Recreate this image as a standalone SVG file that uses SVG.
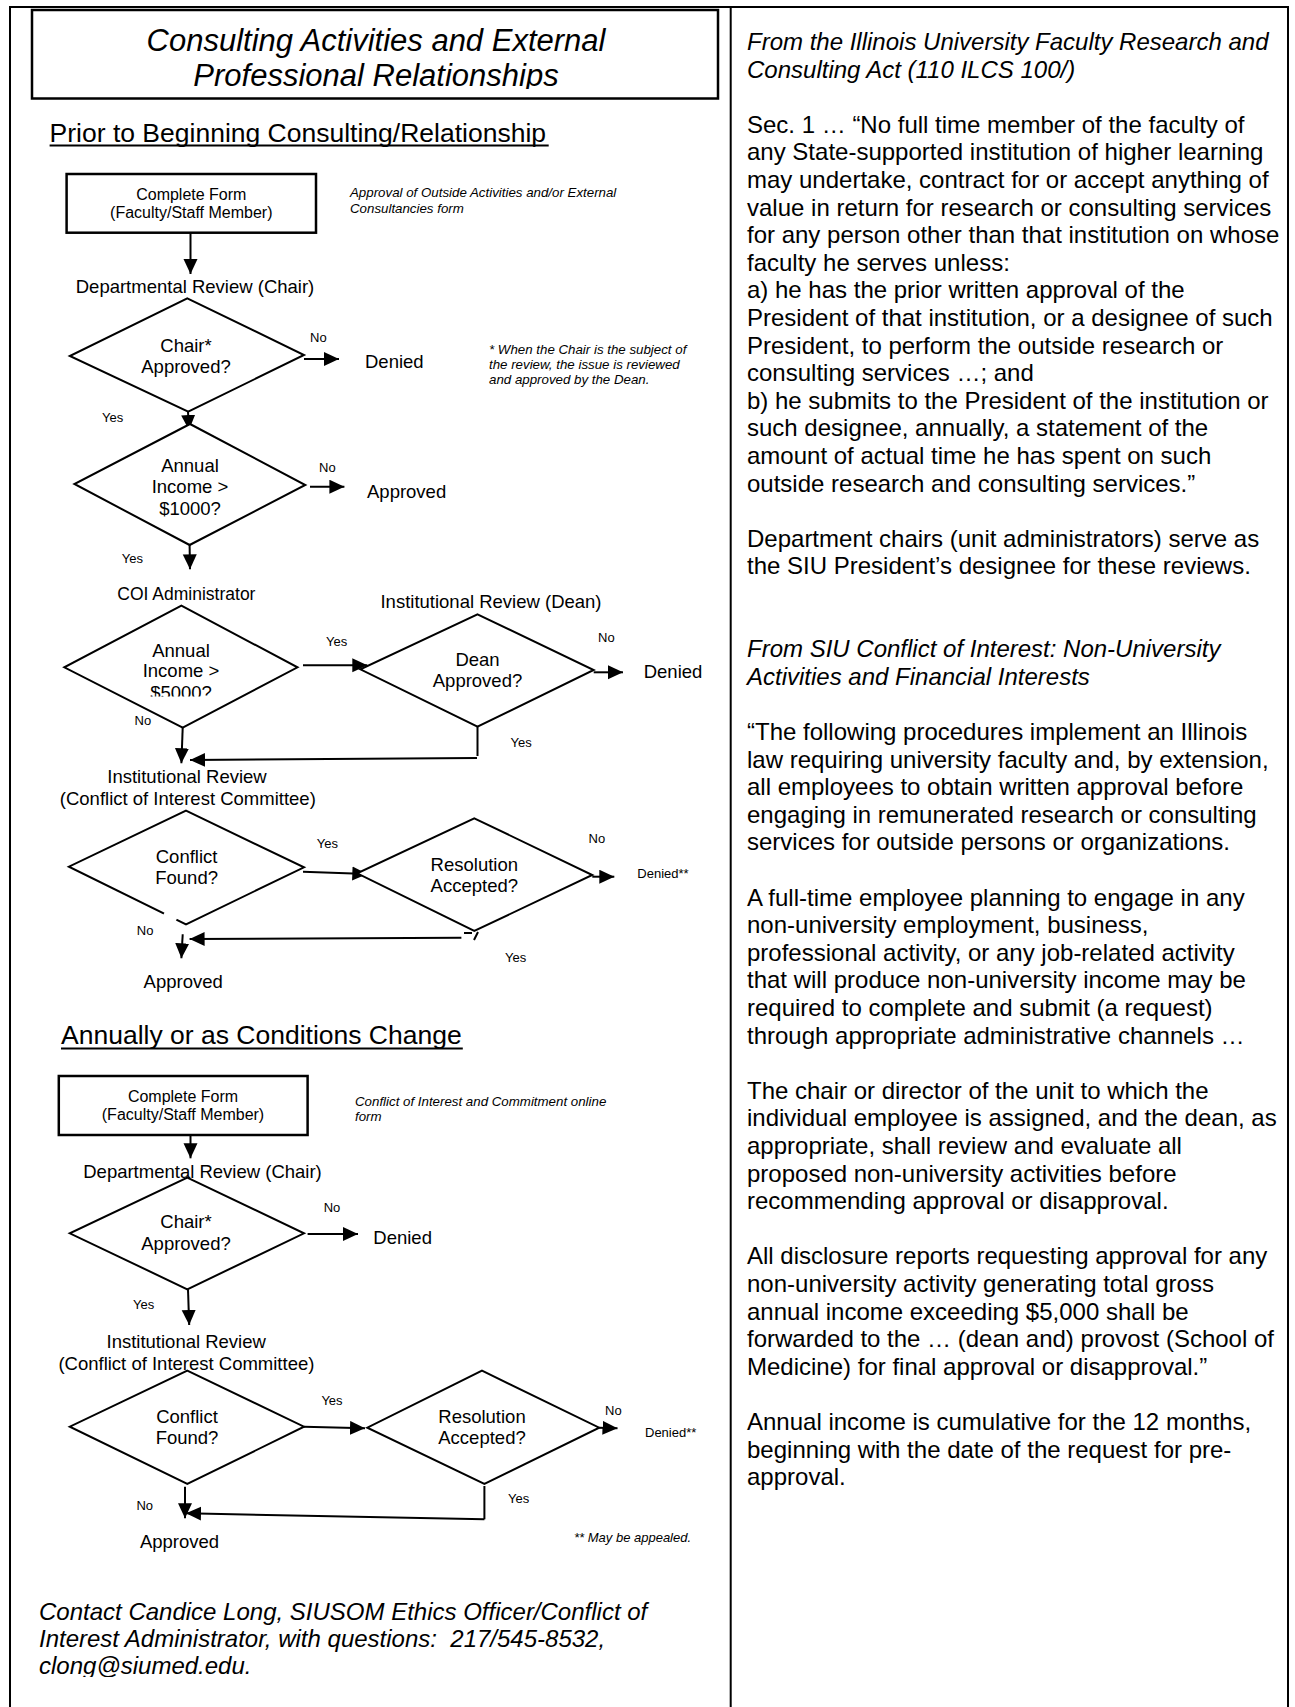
<svg xmlns="http://www.w3.org/2000/svg" width="1295" height="1707" viewBox="0 0 1295 1707">
<defs>
<style>
.t{font-family:"Liberation Sans",Arial,sans-serif;fill:#000}
.it{font-style:italic}
.m{text-anchor:middle}
.f31{font-size:31px}
.f26{font-size:26.5px}
.f24{font-size:24px}
.f18{font-size:18.5px}
.f16{font-size:16px}
.f13{font-size:13px}
.n13{font-size:13.3px}
.shape{fill:#fff;stroke:#000;stroke-width:2}
.box{fill:#fff;stroke:#000;stroke-width:2.5}
.frame{fill:none;stroke:#000;stroke-width:2}
.conn{fill:none;stroke:#000;stroke-width:2;marker-end:url(#ah)}
.plain{fill:none;stroke:#000;stroke-width:2}
</style>
<marker id="ah" markerUnits="userSpaceOnUse" markerWidth="16" markerHeight="15" refX="15" refY="7" orient="auto">
<path d="M0,0 L15,7 L0,14 z" fill="#000"/>
</marker>
<clipPath id="clipTitle"><rect x="32" y="10" width="686" height="79"/></clipPath>
<clipPath id="clip5000"><rect x="60" y="600" width="250" height="96.5"/></clipPath>
<clipPath id="clipContact"><rect x="0" y="1590" width="720" height="87"/></clipPath>
</defs>

<rect x="0" y="0" width="1295" height="1707" fill="#fff"/>

<g id="frame">
<path class="frame" d="M10,1707 V7 H1288 V1707"/>
<path class="frame" d="M730.7,7 V1707"/>
</g>

<g id="title">
<rect class="box" x="32" y="10" width="686" height="88.5"/>
<g clip-path="url(#clipTitle)">
<text class="t it f31 m" x="376" y="50.7">Consulting Activities and External</text>
<text class="t it f31 m" x="376" y="86">Professional Relationships</text>
</g>
</g>

<g id="heading-prior">
<text class="t f26" x="49.6" y="141.7">Prior to Beginning Consulting/Relationship</text>
<line x1="49.6" y1="145.5" x2="548.7" y2="145.5" stroke="#000" stroke-width="2"/>
</g>

<g id="connectors">
<line class="conn" x1="190.5" y1="233" x2="190.5" y2="274"/>
<line class="conn" x1="304" y1="359" x2="339" y2="359"/>
<line class="conn" x1="188" y1="412" x2="189" y2="430"/>
<line class="conn" x1="310" y1="486.7" x2="344.4" y2="486.7"/>
<line class="conn" x1="189.6" y1="545" x2="190" y2="569.3"/>
<line class="conn" x1="303" y1="665.3" x2="367.3" y2="665.3"/>
<line class="conn" x1="593.7" y1="672.3" x2="623" y2="672.3"/>
<line class="conn" x1="182.7" y1="727.7" x2="181.4" y2="763.3"/>
<path class="plain" d="M477.5,727 V756"/>
<line class="conn" x1="477" y1="758" x2="190" y2="760"/>
<line class="conn" x1="303" y1="871.7" x2="367.3" y2="874"/>
<line class="conn" x1="592.3" y1="876.7" x2="614.3" y2="876.7"/>
<path class="plain" d="M464,933 H472 M478,932 L474,940" stroke-width="1.5"/>
<line class="conn" x1="461.4" y1="937.7" x2="189.6" y2="939"/>
<line class="conn" x1="182.7" y1="934.3" x2="181.4" y2="958.3"/>
<line class="conn" x1="190.5" y1="1135" x2="190.5" y2="1158.3"/>
<line class="conn" x1="307.6" y1="1234" x2="358" y2="1234"/>
<line class="conn" x1="188" y1="1289.3" x2="189.2" y2="1325"/>
<line class="conn" x1="304" y1="1426.7" x2="365" y2="1428.3"/>
<line class="conn" x1="599.2" y1="1427.7" x2="617.5" y2="1428.3"/>
<path class="plain" d="M484.4,1486 V1519.3"/>
<line class="conn" x1="484.4" y1="1519.3" x2="186" y2="1513.3"/>
<line class="conn" x1="185" y1="1486.7" x2="185" y2="1518.3"/>
</g>

<g id="box1">
<rect class="box" x="66.6" y="174" width="249.4" height="58.7"/>
<text class="t f16 m" x="191.3" y="200">Complete Form</text>
<text class="t f16 m" x="191.3" y="218.3">(Faculty/Staff Member)</text>
</g>
<g id="note1">
<text class="t it n13" x="350" y="197.3">Approval of Outside Activities and/or External</text>
<text class="t it n13" x="350" y="213.3">Consultancies form</text>
</g>

<g id="lbl-dept1"><text class="t f18 m" x="195" y="293.3">Departmental Review (Chair)</text></g>

<g id="d1">
<polygon class="shape" points="187.3,298.3 304,355 188.2,411.7 69.8,356"/>
<text class="t f18 m" x="186" y="351.7">Chair*</text>
<text class="t f18 m" x="186" y="372.7">Approved?</text>
</g>
<g id="out-denied1"><text class="t f18" x="365" y="367.7">Denied</text></g>
<g id="footnote1">
<text class="t it n13" x="489" y="354">* When the Chair is the subject of</text>
<text class="t it n13" x="489" y="369.3">the review, the issue is reviewed</text>
<text class="t it n13" x="489" y="384.3">and approved by the Dean.</text>
</g>

<g id="d2">
<polygon class="shape" points="190,424 305.3,485 189.6,545 74.4,484"/>
<text class="t f18 m" x="190" y="471.7">Annual</text>
<text class="t f18 m" x="190" y="493.3">Income &gt;</text>
<text class="t f18 m" x="190" y="515">$1000?</text>
</g>
<g id="out-approved1"><text class="t f18" x="367" y="498.3">Approved</text></g>

<g id="lbl-coi"><text class="t m" style="font-size:17.5px" x="186.4" y="600">COI Administrator</text></g>
<g id="lbl-dean"><text class="t f18 m" x="491" y="608.3">Institutional Review (Dean)</text></g>

<g id="d3">
<polygon class="shape" points="181.4,605.7 297.5,667.3 182.7,727.7 64.3,667.3"/>
<text class="t f18 m" x="181" y="656.7">Annual</text>
<text class="t f18 m" x="181" y="677.3">Income &gt;</text>
<text class="t f18 m" x="181" y="698.5" clip-path="url(#clip5000)">$5000?</text>
</g>

<g id="d4">
<polygon class="shape" points="477.5,614.3 593.7,670 477.5,726.7 360.4,669.3"/>
<text class="t f18 m" x="477.5" y="666">Dean</text>
<text class="t f18 m" x="477.5" y="687.3">Approved?</text>
</g>
<g id="out-denied2"><text class="t f18" x="643.7" y="678.3">Denied</text></g>

<g id="lbl-ir1">
<text class="t f18 m" x="187" y="783.3">Institutional Review</text>
<text class="t f18 m" x="187.8" y="805">(Conflict of Interest Committee)</text>
</g>

<g id="d5">
<polygon class="shape" points="186,810.7 304,867.3 186,924.3 68.9,866.7"/>
<line x1="164" y1="913.4" x2="176.5" y2="919.5" stroke="#fff" stroke-width="5"/>
<text class="t f18 m" x="186.6" y="862.7">Conflict</text>
<text class="t f18 m" x="186.6" y="884">Found?</text>
</g>

<g id="d6">
<polygon class="shape" points="474.3,818.3 592.3,875 474.3,931 357.2,873.3"/>
<text class="t f18 m" x="474.3" y="870.7">Resolution</text>
<text class="t f18 m" x="474.3" y="891.7">Accepted?</text>
</g>
<g id="out-denied3"><text class="t f13" x="637.3" y="878.3">Denied**</text></g>
<g id="out-approved2"><text class="t f18 m" x="183.2" y="988.3">Approved</text></g>

<g id="heading-annual">
<text class="t f26" x="61" y="1044">Annually or as Conditions Change</text>
<line x1="61" y1="1048.5" x2="462.8" y2="1048.5" stroke="#000" stroke-width="2"/>
</g>

<g id="box2">
<rect class="box" x="58.8" y="1076" width="248.8" height="59"/>
<text class="t f16 m" x="183" y="1101.7">Complete Form</text>
<text class="t f16 m" x="183" y="1120">(Faculty/Staff Member)</text>
</g>
<g id="note2">
<text class="t it n13" x="355" y="1105.7">Conflict of Interest and Commitment online</text>
<text class="t it n13" x="355" y="1121">form</text>
</g>

<g id="d7">
<polygon class="shape" points="187.3,1177.7 304,1233.3 187.3,1289.3 69.8,1233.3"/>
<text class="t f18 m" x="186" y="1228.3">Chair*</text>
<text class="t f18 m" x="186" y="1250">Approved?</text>
</g>
<g id="lbl-dept2"><text class="t f18 m" x="202.5" y="1178.3">Departmental Review (Chair)</text></g>
<g id="out-denied4"><text class="t f18" x="373.3" y="1244">Denied</text></g>

<g id="lbl-ir2">
<text class="t f18 m" x="186.2" y="1348.3">Institutional Review</text>
</g>

<g id="d8">
<polygon class="shape" points="187.3,1370.7 304,1426.7 187.3,1484 69.8,1426.7"/>
<text class="t f18 m" x="187" y="1422.7">Conflict</text>
<text class="t f18 m" x="187" y="1444">Found?</text>
</g>
<g id="lbl-ir2b"><text class="t f18 m" x="186.4" y="1370">(Conflict of Interest Committee)</text></g>

<g id="d9">
<polygon class="shape" points="482,1370.7 599.2,1427.7 484.4,1484 367.3,1427.7"/>
<text class="t f18 m" x="482" y="1422.7">Resolution</text>
<text class="t f18 m" x="482" y="1444">Accepted?</text>
</g>
<g id="out-denied5"><text class="t f13" x="645" y="1437.3">Denied**</text></g>
<g id="out-approved3"><text class="t f18 m" x="179.5" y="1548.3">Approved</text></g>
<g id="note-appeal"><text class="t it f13" x="574" y="1541.7">** May be appealed.</text></g>

<g id="edge-labels">
<text class="t f13" x="310" y="342.3">No</text>
<text class="t f13" x="102" y="421.7">Yes</text>
<text class="t f13" x="319" y="471.7">No</text>
<text class="t f13" x="121.7" y="563.3">Yes</text>
<text class="t f13" x="326" y="646">Yes</text>
<text class="t f13" x="598" y="641.7">No</text>
<text class="t f13" x="134.5" y="725">No</text>
<text class="t f13" x="510.6" y="747.3">Yes</text>
<text class="t f13" x="316.8" y="848.3">Yes</text>
<text class="t f13" x="588.6" y="843.3">No</text>
<text class="t f13" x="505" y="961.7">Yes</text>
<text class="t f13" x="136.8" y="935">No</text>
<text class="t f13" x="323.7" y="1211.7">No</text>
<text class="t f13" x="133" y="1309.3">Yes</text>
<text class="t f13" x="321.4" y="1405">Yes</text>
<text class="t f13" x="605" y="1415">No</text>
<text class="t f13" x="508" y="1503.3">Yes</text>
<text class="t f13" x="136.4" y="1510">No</text>
</g>

<g id="contact" clip-path="url(#clipContact)">
<text class="t it f24" x="39" y="1620">Contact Candice Long, SIUSOM Ethics Officer/Conflict of</text>
<text class="t it f24" x="39" y="1647" xml:space="preserve">Interest Administrator, with questions:  217/545-8532,</text>
<text class="t it f24" x="39" y="1674">clong@siumed.edu.</text>
</g>

<g id="right-column">
<text class="t it f24"><tspan x="747" y="50">From the Illinois University Faculty Research and</tspan><tspan x="747" y="77.6">Consulting Act (110 ILCS 100/)</tspan></text>
<text class="t f24">
<tspan x="747" y="132.8">Sec. 1 … “No full time member of the faculty of</tspan>
<tspan x="747" y="160.4">any State-supported institution of higher learning</tspan>
<tspan x="747" y="188">may undertake, contract for or accept anything of</tspan>
<tspan x="747" y="215.6">value in return for research or consulting services</tspan>
<tspan x="747" y="243.2">for any person other than that institution on whose</tspan>
<tspan x="747" y="270.8">faculty he serves unless:</tspan>
<tspan x="747" y="298.4">a) he has the prior written approval of the</tspan>
<tspan x="747" y="326">President of that institution, or a designee of such</tspan>
<tspan x="747" y="353.6">President, to perform the outside research or</tspan>
<tspan x="747" y="381.2">consulting services …; and</tspan>
<tspan x="747" y="408.8">b) he submits to the President of the institution or</tspan>
<tspan x="747" y="436.4">such designee, annually, a statement of the</tspan>
<tspan x="747" y="464">amount of actual time he has spent on such</tspan>
<tspan x="747" y="491.6">outside research and consulting services.”</tspan>
</text>
<text class="t f24"><tspan x="747" y="546.8">Department chairs (unit administrators) serve as</tspan><tspan x="747" y="574.4">the SIU President’s designee for these reviews.</tspan></text>
<text class="t it f24"><tspan x="747" y="657.2">From SIU Conflict of Interest: Non-University</tspan><tspan x="747" y="684.8">Activities and Financial Interests</tspan></text>
<text class="t f24">
<tspan x="747" y="740">“The following procedures implement an Illinois</tspan>
<tspan x="747" y="767.6">law requiring university faculty and, by extension,</tspan>
<tspan x="747" y="795.2">all employees to obtain written approval before</tspan>
<tspan x="747" y="822.8">engaging in remunerated research or consulting</tspan>
<tspan x="747" y="850.4">services for outside persons or organizations.</tspan>
</text>
<text class="t f24">
<tspan x="747" y="905.6">A full-time employee planning to engage in any</tspan>
<tspan x="747" y="933.2">non-university employment, business,</tspan>
<tspan x="747" y="960.8">professional activity, or any job-related activity</tspan>
<tspan x="747" y="988.4">that will produce non-university income may be</tspan>
<tspan x="747" y="1016">required to complete and submit (a request)</tspan>
<tspan x="747" y="1043.6">through appropriate administrative channels …</tspan>
</text>
<text class="t f24">
<tspan x="747" y="1098.8">The chair or director of the unit to which the</tspan>
<tspan x="747" y="1126.4">individual employee is assigned, and the dean, as</tspan>
<tspan x="747" y="1154">appropriate, shall review and evaluate all</tspan>
<tspan x="747" y="1181.6">proposed non-university activities before</tspan>
<tspan x="747" y="1209.2">recommending approval or disapproval.</tspan>
</text>
<text class="t f24">
<tspan x="747" y="1264.4">All disclosure reports requesting approval for any</tspan>
<tspan x="747" y="1292">non-university activity generating total gross</tspan>
<tspan x="747" y="1319.6">annual income exceeding $5,000 shall be</tspan>
<tspan x="747" y="1347.2">forwarded to the … (dean and) provost (School of</tspan>
<tspan x="747" y="1374.8">Medicine) for final approval or disapproval.”</tspan>
</text>
<text class="t f24">
<tspan x="747" y="1430">Annual income is cumulative for the 12 months,</tspan>
<tspan x="747" y="1457.6">beginning with the date of the request for pre-</tspan>
<tspan x="747" y="1485.2">approval.</tspan>
</text>
</g>
</svg>
